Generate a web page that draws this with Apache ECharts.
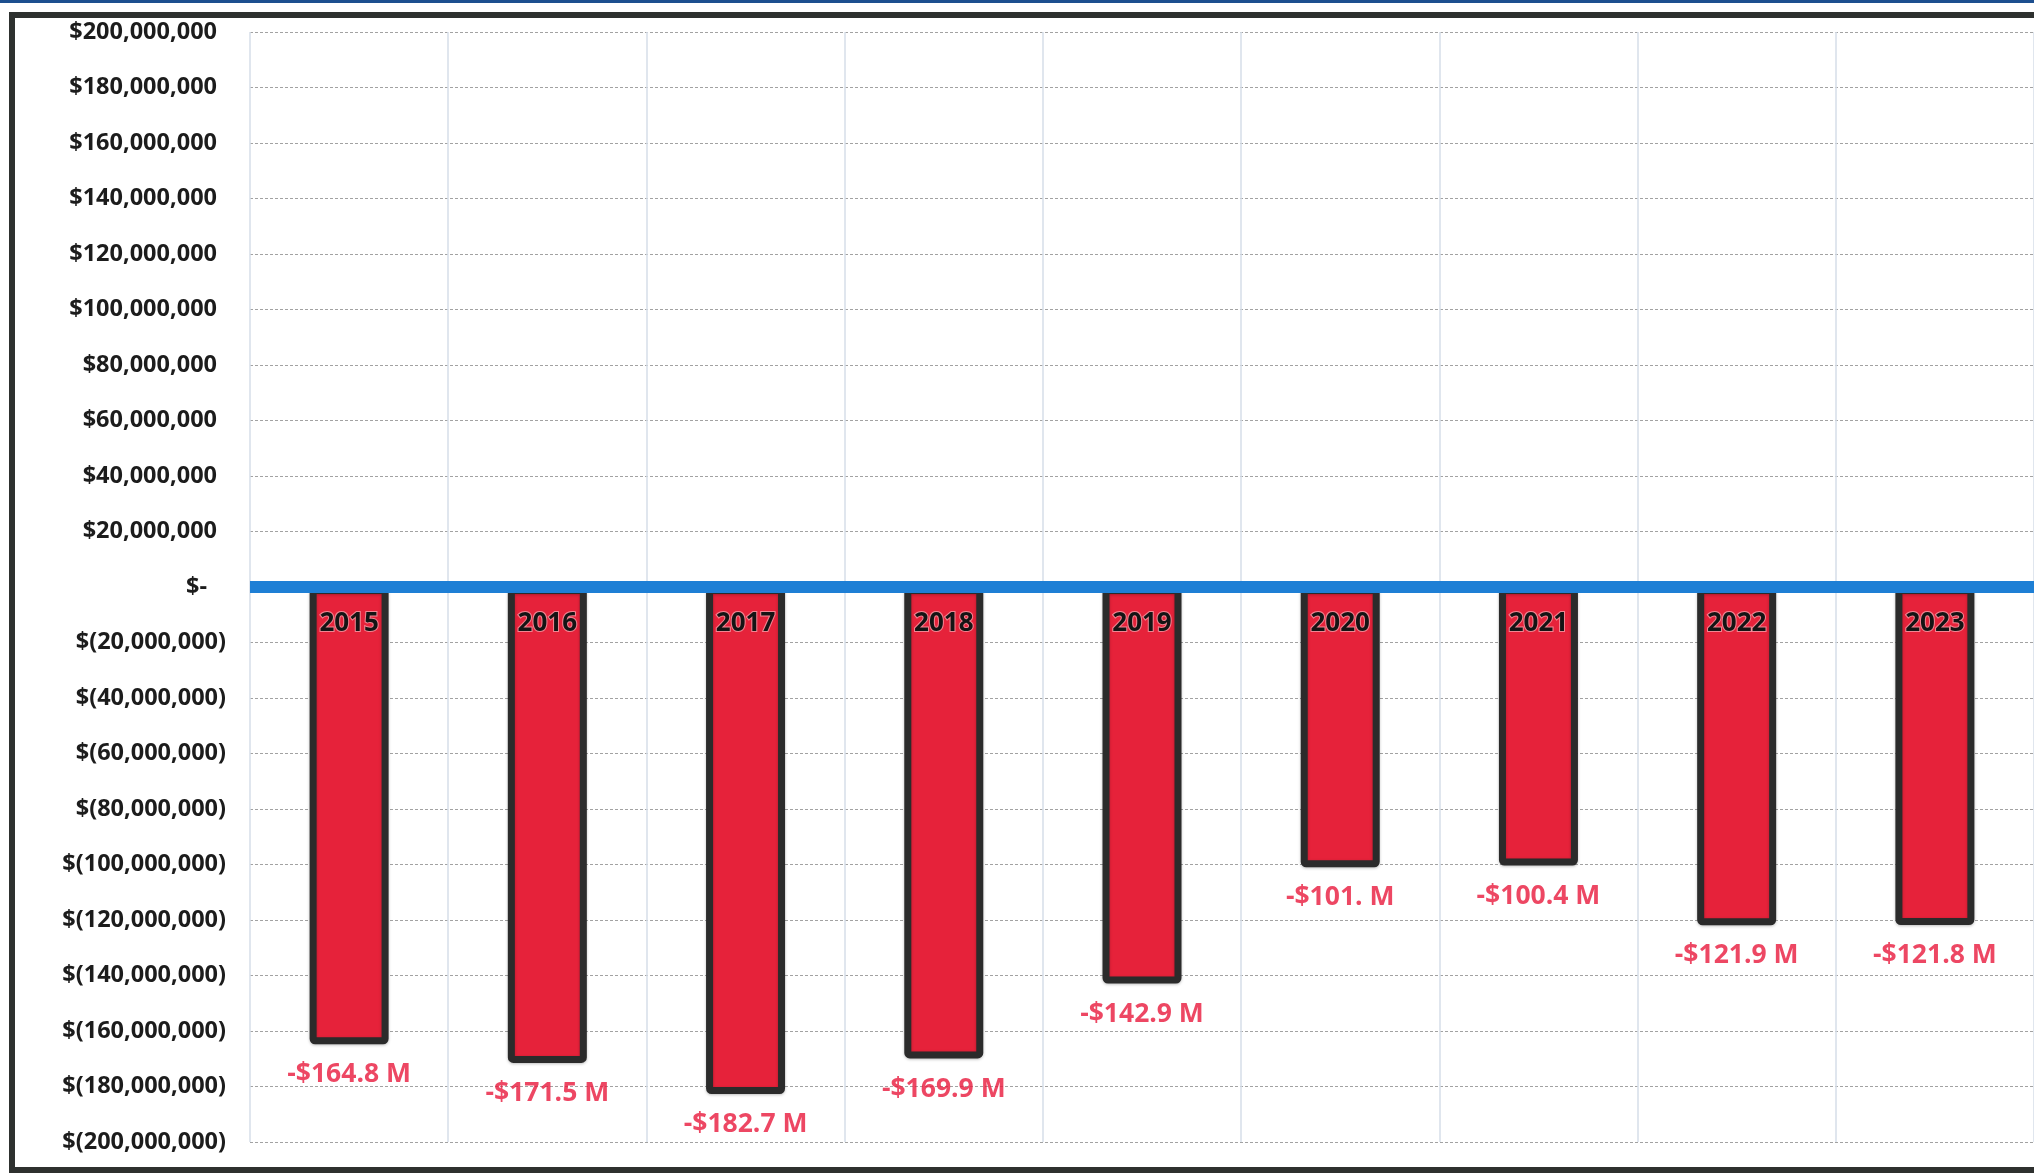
<!DOCTYPE html>
<html>
<head>
<meta charset="utf-8">
<script src="https://cdn.jsdelivr.net/npm/echarts@6/dist/echarts.min.js"></script>
<style>
  html, body { margin: 0; padding: 0; background: #ffffff; }
  #chart { width: 2034px; height: 1173px; }
</style>
</head>
<body>
<div id="chart"></div>
<script>
// ---- data ----
var years = ['2015', '2016', '2017', '2018', '2019', '2020', '2021', '2022', '2023'];
var netValues = [-164800000, -171500000, -182700000, -169900000, -142900000, -101000000, -100400000, -121900000, -121800000];
var valueLabels = ['-$164.8 M', '-$171.5 M', '-$182.7 M', '-$169.9 M', '-$142.9 M', '-$101. M', '-$100.4 M', '-$121.9 M', '-$121.8 M'];
var axisMin = -200000000;
var axisMax = 200000000;
var axisStep = 20000000;

function fmtAxis(v) {
  if (v === 0) return '{z|$-}';
  var s = Math.abs(v).toString().replace(/\B(?=(\d{3})+(?!\d))/g, ',');
  return v < 0 ? '{n|$(' + s + ')}' : '{p|$' + s + '}';
}

var chart = echarts.init(document.getElementById('chart'), null, { renderer: 'canvas' });
var labelFont = '"Open Sans", "Noto Sans", "Liberation Sans", sans-serif';
var axisFontSize = 23.5;

chart.setOption({
  backgroundColor: '#ffffff',
  animation: false,
  graphic: [
    { type: 'rect', shape: { x: 0, y: 0, width: 2034, height: 3 }, style: { fill: '#1d4f8f' }, z: 100 },
    { type: 'rect', shape: { x: 12, y: 15, width: 2200, height: 1155 }, style: { fill: 'none', stroke: '#2e312f', lineWidth: 6 }, z: 100 }
  ],
  grid: { left: 250, right: 0, top: 32, bottom: 31, containLabel: false },
  xAxis: {
    type: 'category',
    data: years,
    z: 5,
    axisLine: { show: true, onZero: true, lineStyle: { color: '#1e7fd5', width: 12, cap: 'butt' } },
    axisTick: { show: false },
    axisLabel: { show: false },
    splitLine: { show: true, lineStyle: { color: '#d6dee8', width: 1.5 } }
  },
  yAxis: {
    type: 'value',
    min: axisMin,
    max: axisMax,
    interval: axisStep,
    axisLine: { show: false },
    axisTick: { show: false },
    splitLine: { show: true, lineStyle: { color: '#a2a2a2', width: 1, type: [3, 2] } },
    axisLabel: {
      margin: 24,
      formatter: fmtAxis,
      fontFamily: labelFont,
      fontWeight: 'bold',
      fontSize: axisFontSize,
      color: '#1c1c1c',
      rich: {
        p: { fontFamily: labelFont, fontWeight: 'bold', fontSize: axisFontSize, color: '#1c1c1c', padding: [0, 9, 0, 0] },
        n: { fontFamily: labelFont, fontWeight: 'bold', fontSize: axisFontSize, color: '#1c1c1c' },
        z: { fontFamily: labelFont, fontWeight: 'bold', fontSize: axisFontSize, color: '#1c1c1c', padding: [0, 19, 0, 0] }
      }
    }
  },
  series: [
    {
      type: 'bar',
      data: netValues,
      barWidth: 79,
      z: 2,
      itemStyle: {
        color: '#e6223a',
        borderColor: '#2b2b2b',
        borderWidth: 7,
        borderRadius: 2,
        shadowColor: 'rgba(0,0,0,0.25)',
        shadowBlur: 3,
        shadowOffsetY: 1
      },
      label: {
        show: true,
        position: 'insideTop',
        distance: 24,
        formatter: '{b}',
        fontFamily: labelFont,
        fontWeight: 'bold',
        fontSize: 26,
        color: '#141414',
        textBorderColor: 'rgba(255,255,255,0.45)',
        textBorderWidth: 2
      }
    },
    {
      type: 'scatter',
      data: netValues,
      symbolSize: 0,
      z: 3,
      silent: true,
      label: {
        show: true,
        position: 'bottom',
        distance: 17,
        formatter: function (p) { return valueLabels[p.dataIndex]; },
        fontFamily: labelFont,
        fontWeight: 'bold',
        fontSize: 26.5,
        color: '#e8193c'
      }
    }
  ]
});
</script>
</body>
</html>
